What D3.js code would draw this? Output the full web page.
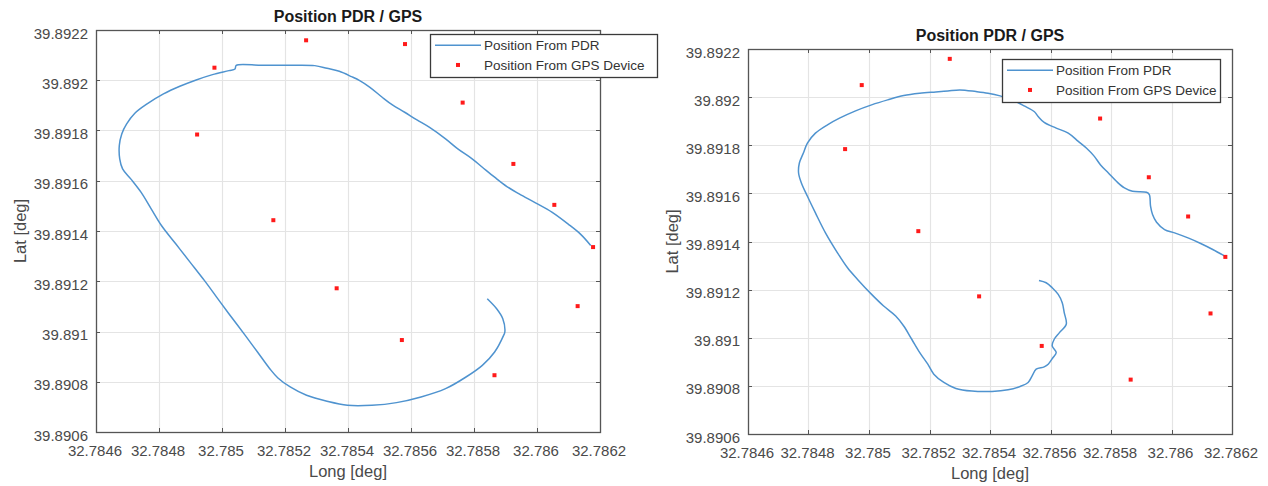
<!DOCTYPE html>
<html>
<head>
<meta charset="utf-8">
<script src="https://cdn.jsdelivr.net/npm/d3@7"></script>
<style>
body { margin: 0; background: #fff; }
text { font-family: "Liberation Sans", Arial, sans-serif; }
</style>
</head>
<body>
<svg id="chart" width="1268" height="486"></svg>
<script>
// axis ticks (same for both plots)
var xTicks = [32.7846, 32.7848, 32.785, 32.7852, 32.7854, 32.7856, 32.7858, 32.786, 32.7862];
var xTickLabels = ["32.7846", "32.7848", "32.785", "32.7852", "32.7854", "32.7856", "32.7858", "32.786", "32.7862"];
var yTicks = [39.8906, 39.8908, 39.891, 39.8912, 39.8914, 39.8916, 39.8918, 39.892, 39.8922];
var yTickLabels = ["39.8906", "39.8908", "39.891", "39.8912", "39.8914", "39.8916", "39.8918", "39.892", "39.8922"];

// GPS device fixes
var gpsLon = [32.784976, 32.784921, 32.785267, 32.785581, 32.785163, 32.785764, 32.785925,
    32.786055, 32.786178, 32.785364, 32.786129, 32.785571, 32.785865];
var gpsLat = [39.892050, 39.891784, 39.892159, 39.892144, 39.891443, 39.891911, 39.891667,
    39.891504, 39.891336, 39.891172, 39.891101, 39.890966, 39.890826];

// PDR track, left figure
var pdrLeftLon = [32.7861705, 32.786138, 32.7860991, 32.7860472, 32.7859952, 32.7859433, 32.7859044,
    32.7858655, 32.7858265, 32.7857941, 32.7857486, 32.7857097, 32.7856578, 32.7856189, 32.7855799,
    32.785541, 32.7855085, 32.7854696, 32.7854371, 32.7854112, 32.7853723, 32.7853333, 32.7852944,
    32.7852035, 32.7851256, 32.7850452, 32.7850413, 32.7850218, 32.7849699, 32.784918, 32.7848661,
    32.7848142, 32.7847622, 32.7847233, 32.7846973, 32.7846818, 32.784674, 32.7846753, 32.7846844,
    32.7847103, 32.7847428, 32.7847752, 32.7848077, 32.7848531, 32.7848985, 32.7849439, 32.7849829,
    32.7850218, 32.7850737, 32.7851127, 32.7851516, 32.7851776, 32.7852165, 32.7852684, 32.7853333,
    32.7853982, 32.7854761, 32.785554, 32.7856318, 32.7857097, 32.7857746, 32.7858265, 32.7858655,
    32.785894, 32.7858979, 32.7858914, 32.7858719, 32.7858421];
var pdrLeftLat = [39.8913425, 39.8913875, 39.8914273, 39.891475, 39.8915121, 39.8915479, 39.8915771,
    39.8916142, 39.8916539, 39.8916871, 39.8917268, 39.8917666, 39.891813, 39.8918421, 39.8918726,
    39.8919018, 39.8919323, 39.891972, 39.8919985, 39.8920144, 39.8920356, 39.8920476, 39.8920582,
    39.8920595, 39.8920595, 39.8920595, 39.8920449, 39.8920383, 39.8920224, 39.8920012, 39.891976,
    39.8919455, 39.8919058, 39.8918686, 39.8918262, 39.8917865, 39.8917401, 39.8916871, 39.8916473,
    39.8916075, 39.8915545, 39.8914883, 39.891422, 39.8913491, 39.8912762, 39.8912033, 39.891137,
    39.8910708, 39.8909846, 39.8909183, 39.8908521, 39.890815, 39.8907792, 39.890746, 39.8907222,
    39.8907063, 39.8907063, 39.8907169, 39.8907394, 39.8907725, 39.8908189, 39.8908653, 39.8909183,
    39.8909846, 39.8909979, 39.8910509, 39.8910906, 39.8911304];

// PDR track, right figure
var pdrRightLon = [32.7861761, 32.7861363, 32.7860965, 32.7860567, 32.7860103, 32.7859771, 32.7859506,
    32.7859373, 32.7859307, 32.7859267, 32.7859174, 32.785871, 32.7858444, 32.7858179, 32.7857914,
    32.7857648, 32.7857449, 32.7857184, 32.7856919, 32.7856587, 32.7856189, 32.7855791, 32.7855592,
    32.7855459, 32.7855128, 32.785473, 32.7854332, 32.7853934, 32.7853536, 32.7853005, 32.7852607,
    32.7852209, 32.7851678, 32.7851148, 32.7850617, 32.7850086, 32.7849556, 32.7849025, 32.7848627,
    32.7848229, 32.7847964, 32.7847831, 32.7847698, 32.7847672, 32.7847765, 32.7847964, 32.7848229,
    32.7848561, 32.7848958, 32.784929, 32.7849622, 32.7850086, 32.7850484, 32.7850882, 32.7851148,
    32.7851413, 32.7851678, 32.7851944, 32.7852143, 32.7852474, 32.7852872, 32.7853403, 32.7854066,
    32.7854597, 32.7854995, 32.785526, 32.7855393, 32.7855526, 32.7855791, 32.7855924, 32.7856083,
    32.7856189, 32.7856056, 32.7856123, 32.7856295, 32.7856521, 32.7856454, 32.7856388, 32.7856255,
    32.7856056, 32.7855857, 32.7855619];
var pdrRightLat = [39.8913392, 39.8913668, 39.8913917, 39.8914138, 39.8914359, 39.8914497, 39.8914801,
    39.8915119, 39.8915465, 39.8915948, 39.8916045, 39.8916086, 39.8916225, 39.8916501, 39.8916846,
    39.8917192, 39.8917537, 39.8917883, 39.8918159, 39.8918504, 39.8918712, 39.8918946, 39.8919195,
    39.8919402, 39.8919637, 39.8919886, 39.8920052, 39.8920162, 39.8920231, 39.89203, 39.8920259,
    39.8920218, 39.8920162, 39.8920066, 39.8919886, 39.8919679, 39.891943, 39.8919126, 39.891885,
    39.8918504, 39.891809, 39.8917675, 39.8917261, 39.8916846, 39.8916432, 39.8915879, 39.8915188,
    39.8914359, 39.891353, 39.8912908, 39.8912425, 39.8911803, 39.891132, 39.8910905, 39.891049,
    39.8909938, 39.8909385, 39.8908902, 39.8908487, 39.8908142, 39.8907893, 39.8907783, 39.8907769,
    39.8907838, 39.8907976, 39.8908142, 39.8908418, 39.8908694, 39.8908791, 39.8908902, 39.8909178,
    39.8909385, 39.8909661, 39.8909938, 39.8910214, 39.891056, 39.8911043, 39.8911458, 39.8911803,
    39.891208, 39.8912287, 39.8912383];

var seriesNames = ["Position From PDR", "Position From GPS Device"];
var titleText = "Position PDR / GPS";

var svg = d3.select("#chart");

var textColor = "#4a4a4a";
var lineColor = "#4f93cf";

function drawPanel(p, lon, lat) {
    var x = d3.scaleLinear().domain([32.7846, 32.7862]).range([p.left, p.right]);
    var y = d3.scaleLinear().domain([39.8906, 39.8922]).range([p.bottom, p.top]);
    var g = svg.append("g");

    // grid
    g.selectAll(".gx").data(xTicks).enter().append("line")
        .attr("x1", function(d) { return Math.round(x(d)) + 0.5; })
        .attr("x2", function(d) { return Math.round(x(d)) + 0.5; })
        .attr("y1", p.top).attr("y2", p.bottom)
        .attr("stroke", "#e4e4e4").attr("stroke-width", 1.2);
    g.selectAll(".gy").data(yTicks).enter().append("line")
        .attr("y1", function(d) { return Math.round(y(d)) + 0.5; })
        .attr("y2", function(d) { return Math.round(y(d)) + 0.5; })
        .attr("x1", p.left).attr("x2", p.right)
        .attr("stroke", "#e4e4e4").attr("stroke-width", 1.2);

    // ticks on all four sides, pointing in
    var tl = 4;
    xTicks.forEach(function(d) {
        var xx = Math.round(x(d)) + 0.5;
        g.append("line").attr("x1", xx).attr("x2", xx).attr("y1", p.bottom).attr("y2", p.bottom - tl)
            .attr("stroke", "#555");
        g.append("line").attr("x1", xx).attr("x2", xx).attr("y1", p.top).attr("y2", p.top + tl)
            .attr("stroke", "#555");
    });
    yTicks.forEach(function(d) {
        var yy = Math.round(y(d)) + 0.5;
        g.append("line").attr("y1", yy).attr("y2", yy).attr("x1", p.left).attr("x2", p.left + tl)
            .attr("stroke", "#555");
        g.append("line").attr("y1", yy).attr("y2", yy).attr("x1", p.right).attr("x2", p.right - tl)
            .attr("stroke", "#555");
    });

    // tick labels
    g.selectAll(".xl").data(xTicks).enter().append("text")
        .attr("x", function(d) { return x(d) - 1; })
        .attr("y", p.bottom + 24)
        .attr("text-anchor", "middle")
        .attr("fill", textColor)
        .style("font-size", "15px")
        .text(function(d, i) { return xTickLabels[i]; });
    g.selectAll(".yl").data(yTicks).enter().append("text")
        .attr("x", p.left - 8)
        .attr("y", function(d) { return y(d) + 8.5; })
        .attr("text-anchor", "end")
        .attr("fill", textColor)
        .style("font-size", "15px")
        .text(function(d, i) { return yTickLabels[i]; });

    // PDR track
    var pts = lon.map(function(d, i) { return [d, lat[i]]; });
    g.append("path")
        .datum(pts)
        .attr("d", d3.line()
            .curve(d3.curveCatmullRom.alpha(0.5))
            .x(function(d) { return x(d[0]); })
            .y(function(d) { return y(d[1]); }))
        .attr("fill", "none")
        .attr("stroke", lineColor)
        .attr("stroke-width", 1.5)
        .attr("stroke-linejoin", "round");

    // GPS points
    g.selectAll(".gps").data(gpsLon).enter().append("rect")
        .attr("x", function(d) { return x(d) - 2; })
        .attr("y", function(d, i) { return y(gpsLat[i]) - 2; })
        .attr("width", 4).attr("height", 4)
        .attr("fill", "#ff1a1a");

    // axes box
    g.append("rect")
        .attr("x", p.left + 0.5).attr("y", p.top + 0.5)
        .attr("width", p.right - p.left).attr("height", p.bottom - p.top)
        .attr("fill", "none").attr("stroke", "#555").attr("stroke-width", 1.3);

    // title and axis labels
    g.append("text")
        .attr("x", (p.left + p.right) / 2).attr("y", p.top - 8.5)
        .attr("text-anchor", "middle")
        .attr("fill", "#1a1a1a")
        .style("font-size", "16px").style("font-weight", "bold")
        .text(titleText);
    g.append("text")
        .attr("x", (p.left + p.right) / 2).attr("y", p.bottom + 45)
        .attr("text-anchor", "middle")
        .attr("fill", textColor)
        .style("font-size", "16.5px")
        .text("Long [deg]");
    g.append("text")
        .attr("transform", "translate(" + (p.left - 70) + "," + ((p.top + p.bottom) / 2) + ") rotate(-90)")
        .attr("text-anchor", "middle")
        .attr("fill", textColor)
        .style("font-size", "16.5px")
        .text("Lat [deg]");

    // legend
    var L = p.legend;
    var lg = g.append("g");
    lg.append("rect")
        .attr("x", L.x + 0.5).attr("y", L.y + 0.5)
        .attr("width", L.w).attr("height", L.h)
        .attr("fill", "#fff").attr("stroke", "#3a3a3a").attr("stroke-width", 1.3);
    var r1 = L.y + L.h * 0.26, r2 = L.y + L.h * 0.72;
    lg.append("line")
        .attr("x1", L.x + 5).attr("x2", L.x + 51)
        .attr("y1", r1).attr("y2", r1)
        .attr("stroke", lineColor).attr("stroke-width", 1.6);
    lg.append("rect")
        .attr("x", L.x + 26).attr("y", r2 - 2)
        .attr("width", 4).attr("height", 4)
        .attr("fill", "#ff1a1a");
    lg.selectAll(".lt").data(seriesNames).enter().append("text")
        .attr("x", L.x + 54)
        .attr("y", function(d, i) { return (i === 0 ? r1 : r2) + 5; })
        .attr("fill", "#333")
        .style("font-size", "13.5px")
        .text(function(d) { return d; });
}

drawPanel({ left: 96, right: 600, top: 30, bottom: 432,
    legend: { x: 430, y: 34, w: 227, h: 43 } }, pdrLeftLon, pdrLeftLat);
drawPanel({ left: 748, right: 1232, top: 49, bottom: 434,
    legend: { x: 1002, y: 59, w: 218, h: 43 } }, pdrRightLon, pdrRightLat);
</script>
</body>
</html>
